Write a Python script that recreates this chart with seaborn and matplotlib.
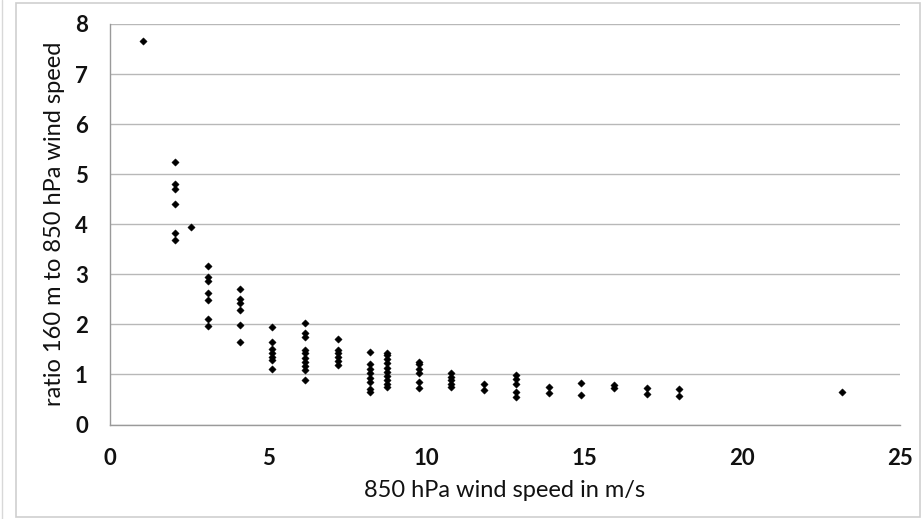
import matplotlib
matplotlib.use("Agg")
import matplotlib.pyplot as plt
import seaborn as sns
import pandas as pd
from matplotlib.patches import Rectangle
from matplotlib.lines import Line2D

# 850 hPa wind speed (m/s) columns and the ratio values observed in each column
speeds = [1.03, 2.06, 2.57, 3.09, 4.12, 5.14, 6.17, 7.20, 8.23, 8.75, 9.77,
          10.80, 11.83, 12.86, 13.89, 14.92, 15.95, 16.98, 18.00, 23.15]
ratios = [
    [7.66],
    [5.25, 4.81, 4.70, 4.41, 3.83, 3.69],
    [3.95],
    [3.16, 2.95, 2.86, 2.62, 2.48, 2.10, 1.97],
    [2.70, 2.50, 2.42, 2.28, 1.99, 1.65],
    [1.94, 1.65, 1.50, 1.42, 1.35, 1.29, 1.11],
    [2.02, 1.82, 1.74, 1.48, 1.42, 1.33, 1.25, 1.17, 1.09, 0.89],
    [1.70, 1.48, 1.42, 1.35, 1.26, 1.18],
    [1.45, 1.20, 1.11, 1.03, 0.93, 0.85, 0.70, 0.64],
    [1.43, 1.38, 1.30, 1.22, 1.13, 1.05, 0.97, 0.89, 0.80, 0.75],
    [1.25, 1.20, 1.11, 1.02, 0.85, 0.72],
    [1.02, 0.95, 0.89, 0.80, 0.74],
    [0.81, 0.68],
    [0.98, 0.90, 0.80, 0.64, 0.54],
    [0.755, 0.62],
    [0.82, 0.58],
    [0.78, 0.73],
    [0.735, 0.60],
    [0.715, 0.57],
    [0.64],
]
x_ticks = [0, 5, 10, 15, 20, 25]
y_ticks = [0, 1, 2, 3, 4, 5, 6, 7, 8]
x_label = "850 hPa wind speed in m/s"
y_label = "ratio 160 m to 850 hPa wind speed"

rows = [(s, r) for s, col in zip(speeds, ratios) for r in col]
df = pd.DataFrame(rows, columns=["speed", "ratio"])

sns.set_style("white")
plt.rcParams['font.family'] = ['Lato', 'DejaVu Sans']

W, H = 922, 519
fig = plt.figure(figsize=(W / 100, H / 100), dpi=100)
ax = fig.add_axes([110 / W, (H - 424.5) / H, (900 - 110) / W, (424.5 - 24) / H])

sns.scatterplot(data=df, x="speed", y="ratio", ax=ax, marker="D", s=14,
                color="black", edgecolor="black", linewidth=0.3, zorder=3)

ax.set_xlim(0, 25)
ax.set_ylim(0, 8)
ax.set_xticks(x_ticks)
ax.set_yticks(y_ticks)
ax.set_xticklabels([str(t) for t in x_ticks], fontsize=16, fontweight="bold", color="#111111")
ax.set_yticklabels([str(t) for t in y_ticks], fontsize=16, fontweight="bold", color="#111111")
ax.set_xlabel(x_label, fontsize=17, color="#111111", labelpad=8)
ax.set_ylabel(y_label, fontsize=17, color="#111111", labelpad=7)

ax.yaxis.grid(True, color="#b8b8b8", linewidth=1.0)
ax.xaxis.grid(False)
ax.set_axisbelow(True)
for side in ["top", "right"]:
    ax.spines[side].set_visible(False)
for side in ["left", "bottom"]:
    ax.spines[side].set_color("#9a9a9a")
    ax.spines[side].set_linewidth(1.0)
ax.tick_params(axis="both", direction="out", length=5, width=1.0, color="#9a9a9a")
ax.tick_params(axis="y", pad=11)
ax.tick_params(axis="x", pad=12)

fig.patches.append(Rectangle((16 / W, 2 / H), (920 - 16) / W, (516 - 2) / H, transform=fig.transFigure,
                             fill=False, edgecolor="#cfcfcf", linewidth=1.2))
fig.lines.append(Line2D([2 / W, 2 / W], [0, 1], transform=fig.transFigure,
                        color="#d8d8d8", linewidth=1.0))

fig.savefig("out.png", dpi=100)
